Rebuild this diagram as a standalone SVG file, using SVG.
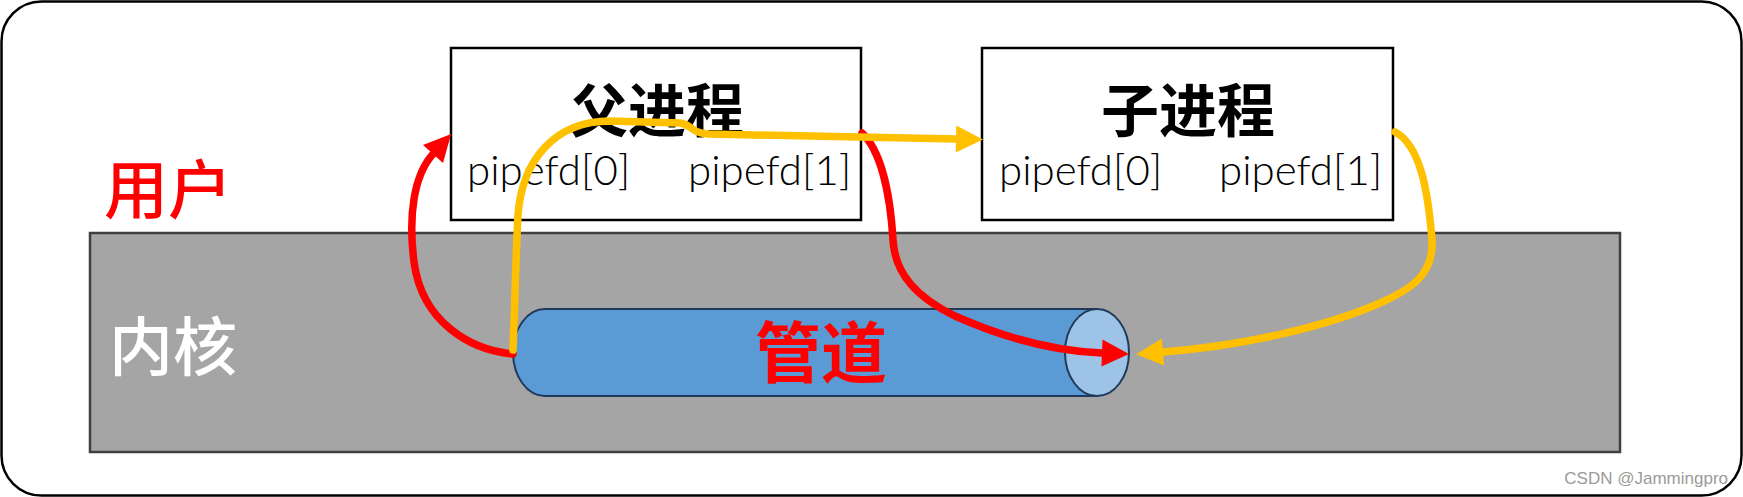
<svg xmlns="http://www.w3.org/2000/svg" width="1743" height="497" viewBox="0 0 1743 497">
<style>
.cjk{font-family:"Noto Sans CJK SC","Noto Sans",sans-serif}
.lat{font-family:"Liberation Sans","DejaVu Sans",sans-serif}
.fdf{font-family:Lato,"Liberation Sans",sans-serif;font-weight:300}
.box{fill:#fff;stroke:#000;stroke-width:2.5}
.title{font-size:58px;font-weight:bold;fill:#000;text-anchor:middle}
.fd{font-size:42px;fill:#000}
.side{font-size:64px;font-weight:500}
.red{fill:none;stroke:#ff0000;stroke-width:7.5;stroke-linecap:round;stroke-linejoin:round}
.yel{fill:none;stroke:#ffc000;stroke-width:7.5;stroke-linecap:round;stroke-linejoin:round}
</style>
<defs>
<marker id="ahRed" markerUnits="userSpaceOnUse" markerWidth="28" markerHeight="28" refX="0" refY="13.5" orient="auto" overflow="visible">
<path d="M0,0 L27,13.5 L0,27 Z" fill="#ff0000"/>
</marker>
<marker id="ahYel" markerUnits="userSpaceOnUse" markerWidth="28" markerHeight="28" refX="0" refY="13.5" orient="auto" overflow="visible">
<path d="M0,0 L27,13.5 L0,27 Z" fill="#ffc000"/>
</marker>
</defs>
<g id="frame">
<rect x="1.5" y="1.5" width="1740" height="494" rx="40" ry="40" fill="#fff" stroke="#000" stroke-width="2.5"/>
</g>
<g id="user-label">
<text class="cjk side" x="104" y="213" fill="#ff0000">用户</text>
</g>
<g id="kernel">
<rect x="90" y="233" width="1530" height="219" fill="#a5a5a5" stroke="#404040" stroke-width="2.5"/>
<text class="cjk side" x="109" y="370" fill="#ffffff">内核</text>
</g>
<g id="parent">
<rect class="box" x="451" y="48" width="410" height="172"/>
<text class="cjk title" x="657" y="132">父进程</text>
<text class="fdf fd" x="467" y="185">pipefd[0]</text>
<text class="fdf fd" x="688" y="185">pipefd[1]</text>
</g>
<g id="child">
<rect class="box" x="982" y="48" width="411" height="172"/>
<text class="cjk title" x="1188" y="132">子进程</text>
<text class="fdf fd" x="999" y="185">pipefd[0]</text>
<text class="fdf fd" x="1219" y="185">pipefd[1]</text>
</g>
<g id="pipe">
<path d="M1097,309 L545,309 A32,43.5 0 0 0 545,396 L1097,396 Z" fill="#5b9bd5" stroke="#1f3a5a" stroke-width="2"/>
<ellipse cx="1097" cy="352.5" rx="32" ry="43.5" fill="#9dc3e6" stroke="#1f3a5a" stroke-width="2"/>
<text class="cjk" x="821" y="377" font-size="66" font-weight="bold" fill="#ff0000" text-anchor="middle">管道</text>
</g>
<g id="connectors">
<path class="red" d="M513,354 C470,350 422,322 414,262 C408,215 414,175 433,154" marker-end="url(#ahRed)"/>
<path class="red" d="M862,133 C880,150 890,190 893,240 C895,275 918,298 955,316 C1000,336 1050,351 1102,353" marker-end="url(#ahRed)"/>
<path class="yel" d="M513,350 C515,300 516,250 518,215 C522,160 555,121 610,121 L680,123 C692,124 690,133 708,134 L956,139" marker-end="url(#ahYel)"/>
<path class="yel" d="M1395,132 C1420,145 1428,190 1432,240 C1434,275 1410,290 1380,303 C1330,325 1250,345 1163,352" marker-end="url(#ahYel)"/>
</g>
<g id="watermark">
<text class="lat" x="1728" y="484" font-size="17" fill="#9a9a9a" text-anchor="end">CSDN @Jammingpro</text>
</g>
</svg>
